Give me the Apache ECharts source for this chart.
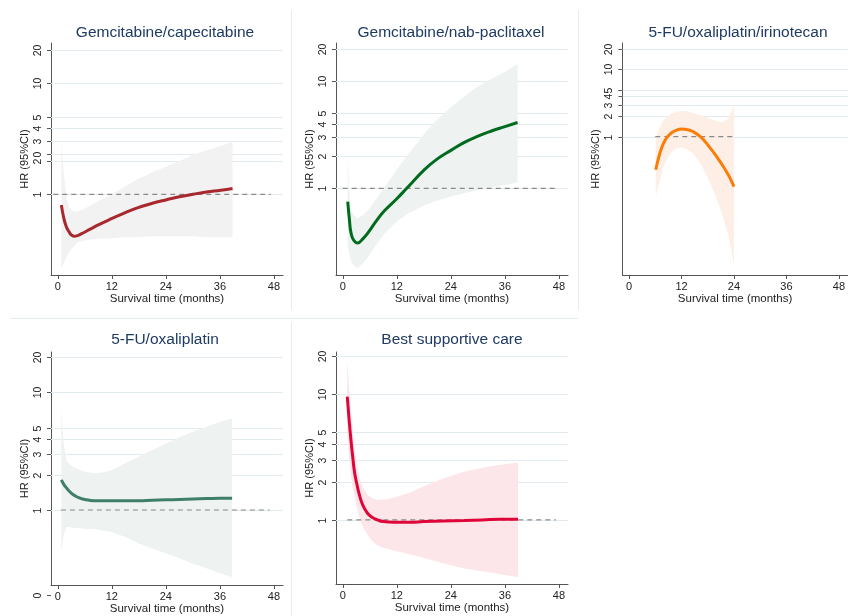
<!DOCTYPE html>
<html>
<head>
<meta charset="utf-8">
<title>HR over survival time</title>
<script src="https://cdn.jsdelivr.net/npm/echarts@6/dist/echarts.min.js"></script>
<style>
html, body { margin: 0; padding: 0; background: #fff; }
#chart { width: 848px; height: 616px; }
</style>
</head>
<body>
<div id="chart"></div>
<script>
/* ---------------- 数据 ---------------- */
var titles = ['Gemcitabine/capecitabine', 'Gemcitabine/nab-paclitaxel',
	'5-FU/oxaliplatin/irinotecan', '5-FU/oxaliplatin', 'Best supportive care'];

var xTicks = [0, 12, 24, 36, 48];

// y 轴刻度（对数轴），每个小图略有不同
var yTicks1 = [1, 2, 2.3, 3, 4, 5, 10, 20];
var yLabels1 = ['1', '2', '0', '3', '4', '5', '10', '20'];
var yTicks = [1, 2, 3, 4, 5, 10, 20];
var yLabels = ['1', '2', '3', '4', '5', '10', '20'];
var yTicks4 = [0.19, 1, 2, 3, 4, 5, 10, 20];
var yLabels4 = ['0', '1', '2', '3', '4', '5', '10', '20'];

// Gemcitabine/capecitabine
var months1 = [0.8, 1.3, 1.9, 2.5, 3.0, 3.6, 4.4, 5.2, 7, 9, 11.8, 14.5, 17.5, 21, 24, 27, 30, 33, 36.2, 38.8];
var hr1 = [0.80, 0.62, 0.51, 0.46, 0.43, 0.42, 0.425, 0.44, 0.48, 0.53, 0.60, 0.67, 0.75, 0.83, 0.89, 0.95, 1.0, 1.05, 1.09, 1.13];
var hi1 = [2.98, 1.6, 0.95, 0.76, 0.72, 0.70, 0.70, 0.72, 0.78, 0.87, 0.99, 1.15, 1.35, 1.58, 1.77, 2.0, 2.26, 2.5, 2.72, 2.98];
var lo1 = [0.215, 0.24, 0.27, 0.30, 0.32, 0.34, 0.37, 0.38, 0.39, 0.40, 0.40, 0.41, 0.41, 0.42, 0.42, 0.42, 0.42, 0.41, 0.41, 0.41];

// Gemcitabine/nab-paclitaxel
var months2 = [1.1, 1.5, 1.8, 2.4, 3.3, 4.5, 5.7, 7.5, 9.3, 12, 14.2, 18.2, 21, 24.1, 27, 29.9, 33, 36, 38.8];
var hr2 = [0.75, 0.50, 0.39, 0.33, 0.31, 0.34, 0.39, 0.50, 0.62, 0.80, 1.0, 1.50, 1.88, 2.27, 2.68, 3.05, 3.42, 3.76, 4.1];
var hi2 = [1.97, 0.9, 0.65, 0.56, 0.525, 0.56, 0.63, 0.80, 1.03, 1.5, 2.0, 3.25, 4.4, 5.76, 7.2, 8.86, 10.5, 12.2, 14.4];
var lo2 = [0.286, 0.24, 0.21, 0.19, 0.18, 0.20, 0.23, 0.30, 0.38, 0.49, 0.57, 0.70, 0.77, 0.84, 0.90, 0.96, 1.02, 1.07, 1.13];

// 5-FU/oxaliplatin/irinotecan
var months3 = [6.1, 7, 7.9, 8.8, 9.8, 11, 12, 13.3, 14.6, 16.5, 18.3, 19.8, 21.3, 22.7, 23.4, 24];
var hr3 = [0.32, 0.55, 0.80, 1.0, 1.15, 1.26, 1.30, 1.27, 1.19, 0.97, 0.71, 0.53, 0.38, 0.27, 0.22, 0.18];
var hi3 = [0.9, 1.35, 1.77, 2.0, 2.22, 2.35, 2.41, 2.38, 2.27, 2.05, 1.88, 1.72, 1.62, 1.85, 2.3, 2.96];
var lo3 = [0.128, 0.22, 0.36, 0.48, 0.60, 0.67, 0.69, 0.65, 0.57, 0.38, 0.22, 0.13, 0.07, 0.035, 0.02, 0.012];

// 5-FU/oxaliplatin
var months4 = [0.8, 1.3, 2, 3, 4, 5, 6, 8, 10, 12, 15, 18, 21, 24, 27, 30, 33, 36, 38.7];
var hr4 = [1.80, 1.66, 1.53, 1.39, 1.31, 1.26, 1.23, 1.20, 1.20, 1.20, 1.20, 1.20, 1.21, 1.22, 1.23, 1.24, 1.25, 1.26, 1.26];
var hi4 = [7.17, 3.7, 2.58, 2.38, 2.26, 2.18, 2.12, 2.05, 2.08, 2.19, 2.5, 2.84, 3.24, 3.68, 4.15, 4.62, 5.1, 5.63, 6.0];
var lo4 = [0.44, 0.62, 0.72, 0.71, 0.70, 0.70, 0.69, 0.69, 0.67, 0.65, 0.59, 0.52, 0.47, 0.43, 0.39, 0.35, 0.32, 0.29, 0.27];

// Best supportive care
var months5 = [1.0, 1.4, 1.85, 2.2, 2.6, 3.1, 3.7, 4.5, 5.5, 6.5, 7.7, 9, 11.4, 15, 18, 22.4, 27, 31, 35, 38.9];
var hr5 = [9.57, 6.3, 4.2, 3.2, 2.42, 1.95, 1.58, 1.30, 1.13, 1.05, 1.0, 0.97, 0.96, 0.96, 0.97, 0.98, 0.99, 1.0, 1.01, 1.01];
var hi5 = [18.8, 11.5, 7.3, 5.3, 3.7, 2.8, 2.15, 1.8, 1.58, 1.49, 1.45, 1.45, 1.5, 1.65, 1.85, 2.15, 2.42, 2.6, 2.75, 2.87];
var lo5 = [5.0, 3.2, 2.2, 1.8, 1.58, 1.28, 1.04, 0.88, 0.76, 0.68, 0.63, 0.60, 0.57, 0.53, 0.50, 0.45, 0.41, 0.39, 0.37, 0.35];

// HR=1 参考虚线的起止月份
var refStart = [-1, 0, 6, 0.7, 1];
var refEnd = [47.3, 47.2, 24, 47, 47.3];

/* ---------------- 布局和样式 ---------------- */
var panels = [
	{left: 51, top: 43, w: 232, h: 232, ymin: 0.1875, ymax: 23.1, tx: 165, ty: 25,
		months: months1, hr: hr1, hi: hi1, lo: lo1, ticks: yTicks1, labels: yLabels1,
		line: '#a8282d', band: '#f2f2f2'},
	{left: 336, top: 43, w: 232, h: 232, ymin: 0.1556, ymax: 22.6, tx: 451, ty: 25,
		months: months2, hr: hr2, hi: hi2, lo: lo2, ticks: yTicks, labels: yLabels,
		line: '#006b1e', band: '#eef3f1'},
	{left: 622.5, top: 43, w: 232, h: 232, ymin: 0.0087, ymax: 24.7, tx: 738, ty: 25,
		months: months3, hr: hr3, hi: hi3, lo: lo3, ticks: yTicks, labels: yLabels,
		line: '#fb7d07', band: '#fdefe6'},
	{left: 51, top: 352, w: 232, h: 233, ymin: 0.2307, ymax: 22.0, tx: 165, ty: 332,
		months: months4, hr: hr4, hi: hi4, lo: lo4, ticks: yTicks4, labels: yLabels4,
		line: '#3f7f69', band: '#eef2f0'},
	{left: 336, top: 352, w: 232, h: 232, ymin: 0.309, ymax: 21.7, tx: 452, ty: 332,
		months: months5, hr: hr5, hi: hi5, lo: lo5, ticks: yTicks, labels: yLabels,
		line: '#de0638', band: '#fde6e9'}
];

var FONT = '"Liberation Sans", Arial, sans-serif';
var GRID_COLOR = '#e1ebef';
var AXIS_COLOR = '#555';

// 自己画 y 轴刻度、标签和网格线（对数轴上 2,3,4,5 这些位置）
function tickRender(p) {
	return function (params, api) {
		var i = params.dataIndex;
		var v = p.ticks[i];
		var cs = params.coordSys;
		var y = Math.round(api.coord([0, v])[1]) + 0.5;
		var kids = [];
		if (v >= p.ymin && v <= p.ymax) {
			kids.push({type: 'line', shape: {x1: cs.x, y1: y, x2: cs.x + cs.width, y2: y},
				style: {stroke: GRID_COLOR, lineWidth: 1}});
		}
		kids.push({type: 'line', shape: {x1: cs.x - 4, y1: y, x2: cs.x, y2: y},
			style: {stroke: AXIS_COLOR, lineWidth: 1}});
		kids.push({type: 'text', x: cs.x - 13, y: y, rotation: Math.PI / 2,
			style: {text: p.labels[i], align: 'center', verticalAlign: 'middle',
				fill: '#222', font: '10.5px ' + FONT}});
		return {type: 'group', children: kids};
	};
}

// 置信区间带：一个多边形
function bandRender(p) {
	return function (params, api) {
		if (params.dataIndex !== 0) return null;
		var pts = [];
		for (var i = 0; i < p.months.length; i++) pts.push(api.coord([p.months[i], p.hi[i]]));
		for (var j = p.months.length - 1; j >= 0; j--) pts.push(api.coord([p.months[j], p.lo[j]]));
		return {type: 'polygon', shape: {points: pts}, style: {fill: p.band}};
	};
}

var grids = [], xAxes = [], yAxes = [], series = [], titleList = [];

panels.forEach(function (p, k) {
	grids.push({left: p.left, top: p.top, width: p.w, height: p.h});

	titleList.push({
		text: titles[k], left: p.tx, top: p.ty, textAlign: 'center', padding: 0,
		textStyle: {fontFamily: FONT, fontSize: 15.5, fontWeight: 'normal', color: '#1f3a63'}
	});

	xAxes.push({
		type: 'value', gridIndex: k, min: -1.5, max: 50,
		name: 'Survival time (months)', nameLocation: 'middle', nameGap: 17,
		nameTextStyle: {fontFamily: FONT, fontSize: 11.5, color: '#222'},
		axisLine: {show: true, onZero: false, lineStyle: {color: AXIS_COLOR}},
		axisTick: {show: true, length: 4, customValues: xTicks, lineStyle: {color: AXIS_COLOR}},
		axisLabel: {customValues: xTicks, margin: 6, fontFamily: FONT, fontSize: 11, color: '#222'},
		splitLine: {show: false}
	});

	yAxes.push({
		type: 'log', logBase: 10, gridIndex: k, min: p.ymin, max: p.ymax,
		name: 'HR (95%CI)', nameLocation: 'middle', nameGap: 21,
		nameTextStyle: {fontFamily: FONT, fontSize: 11, color: '#222'},
		axisLine: {show: true, onZero: false, lineStyle: {color: AXIS_COLOR}},
		axisTick: {show: false},
		axisLabel: {show: false},
		splitLine: {show: false}
	});

	series.push({
		type: 'custom', xAxisIndex: k, yAxisIndex: k, z: 1, silent: true,
		renderItem: tickRender(p),
		encode: {x: 0, y: 1},
		data: p.ticks.map(function (v) { return [0, v]; })
	});

	series.push({
		type: 'custom', xAxisIndex: k, yAxisIndex: k, z: 2, silent: true,
		renderItem: bandRender(p),
		encode: {x: 0, y: [1, 2]},
		data: p.months.map(function (m, i) { return [m, p.lo[i], p.hi[i]]; })
	});

	series.push({
		type: 'line', xAxisIndex: k, yAxisIndex: k, z: 3, silent: true,
		showSymbol: false,
		lineStyle: {color: '#8a8a8a', width: 1.2, type: [5, 4]},
		data: [[refStart[k], 1], [refEnd[k], 1]]
	});

	series.push({
		type: 'line', xAxisIndex: k, yAxisIndex: k, z: 4, silent: true,
		showSymbol: false, smooth: 0.5,
		lineStyle: {color: p.line, width: 3},
		data: p.months.map(function (m, i) { return [m, p.hr[i]]; })
	});
});

// 小图之间的浅色分隔线
var SEP = '#e6edf1';
var graphics = [
	{type: 'line', shape: {x1: 291.5, y1: 10, x2: 291.5, y2: 310}, style: {stroke: SEP, lineWidth: 1}},
	{type: 'line', shape: {x1: 578.5, y1: 10, x2: 578.5, y2: 310}, style: {stroke: SEP, lineWidth: 1}},
	{type: 'line', shape: {x1: 10, y1: 318.5, x2: 578, y2: 318.5}, style: {stroke: SEP, lineWidth: 1}},
	{type: 'line', shape: {x1: 291.5, y1: 322, x2: 291.5, y2: 616}, style: {stroke: SEP, lineWidth: 1}}
];

var myChart = echarts.init(document.getElementById('chart'));
myChart.setOption({
	animation: false,
	backgroundColor: '#fff',
	title: titleList,
	grid: grids,
	xAxis: xAxes,
	yAxis: yAxes,
	graphic: graphics,
	series: series
});
</script>
</body>
</html>
